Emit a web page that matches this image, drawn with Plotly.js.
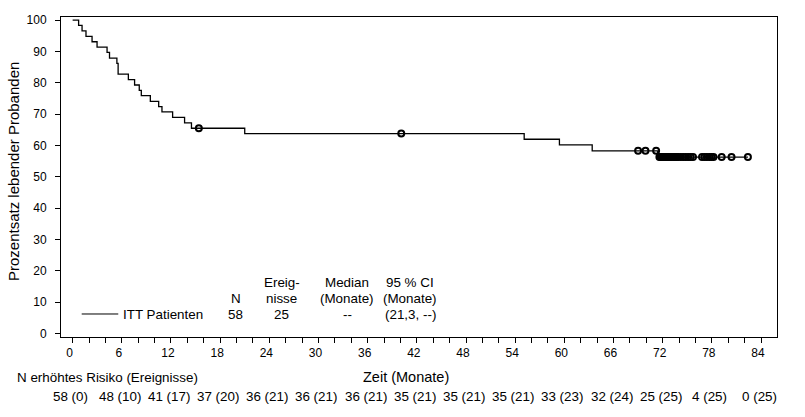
<!DOCTYPE html>
<html>
<head>
<meta charset="utf-8">
<script src="https://cdn.plot.ly/plotly-3.0.1.min.js"></script>
<style>
  html, body { margin: 0; padding: 0; background: #fff; }
  #chart { width: 805px; height: 417px; }
</style>
</head>
<body>
<div id="chart"></div>
<script>
// Kaplan-Meier step curve (time in months, survival in %)
const kmTime = [0, 0.73, 1.15, 1.63, 2.37, 2.98, 4.2, 4.5, 5.4, 5.55, 6.8, 7.56, 8.13, 8.38, 9.48, 10.5, 10.9, 12.2, 13.66, 14.5, 21.0, 55.1, 59.4, 63.4, 71.4, 82.4];
const kmSurv = [100, 98.3, 96.6, 94.8, 93.1, 91.4, 89.7, 87.9, 86.2, 82.8, 81.0, 79.3, 77.6, 75.9, 74.1, 72.4, 70.7, 69.0, 67.2, 65.5, 63.8, 62.0, 60.2, 58.3, 56.3, 56.3];

// Censored observations
const censorTime = [15.4, 40.1, 69.0, 69.9, 71.2,
  71.6, 71.75, 71.9, 72.1, 72.3, 72.5, 72.7, 72.9, 73.1, 73.3, 73.5, 73.7, 73.9, 74.2, 74.5, 74.8, 75.1, 75.4, 75.7,
  76.8, 77.1, 77.4, 77.7, 77.95, 78.2, 79.2, 80.4, 82.4];
const censorSurv = [65.5, 63.8, 58.3, 58.3, 58.3,
  56.3, 56.3, 56.3, 56.3, 56.3, 56.3, 56.3, 56.3, 56.3, 56.3, 56.3, 56.3, 56.3, 56.3, 56.3, 56.3, 56.3, 56.3, 56.3,
  56.3, 56.3, 56.3, 56.3, 56.3, 56.3, 56.3, 56.3, 56.3];

// Number at risk table
const riskTimes = [0, 6, 12, 18, 24, 30, 36, 42, 48, 54, 60, 66, 72, 78, 84];
const riskN = [58, 48, 41, 37, 36, 36, 36, 35, 35, 35, 33, 32, 25, 4, 0];
const riskE = [0, 10, 17, 20, 21, 21, 21, 21, 21, 21, 23, 24, 25, 25, 25];

// Summary table
const groupName = 'ITT Patienten';
const summaryHeaders = [['N'], ['Ereig-', 'nisse'], ['Median', '(Monate)'], ['95 % CI', '(Monate)']];
const summaryValues = ['58', '25', '--', '(21,3, --)'];

const FONT = 'Liberation Sans, Arial, sans-serif';
const TXT = 13.4;

const traces = [
  {
    x: kmTime, y: kmSurv, type: 'scatter', mode: 'lines',
    line: { shape: 'hv', color: '#000', width: 1.3 },
    hoverinfo: 'skip', showlegend: false
  },
  {
    x: censorTime, y: censorSurv, type: 'scatter', mode: 'markers',
    marker: { symbol: 'circle-open', size: 6, color: '#000', line: { width: 2, color: '#000' } },
    hoverinfo: 'skip', showlegend: false
  }
];

const annotations = [];
// summary table columns (x in months)
const colX = [19.9, 25.5, 33.5, 41.2];
const rowShift = [55, 39, 23];
summaryHeaders.forEach((h, i) => {
  const start = 2 - h.length;
  h.forEach((t, j) => {
    annotations.push({ xref: 'x', yref: 'paper', x: colX[i], y: 0, yshift: rowShift[start + j],
      text: t, showarrow: false, xanchor: 'center', yanchor: 'middle', font: { family: FONT, size: TXT, color: '#000' } });
  });
  annotations.push({ xref: 'x', yref: 'paper', x: colX[i], y: 0, yshift: rowShift[2],
    text: summaryValues[i], showarrow: false, xanchor: 'center', yanchor: 'middle', font: { family: FONT, size: TXT, color: '#000' } });
});
annotations.push({ xref: 'x', yref: 'paper', x: 5.9, y: 0, yshift: rowShift[2],
  text: groupName, showarrow: false, xanchor: 'left', yanchor: 'middle', font: { family: FONT, size: TXT, color: '#000' } });

// Risk table
riskTimes.forEach((t, i) => {
  annotations.push({ xref: 'x', yref: 'paper', x: t, y: 0, yshift: -59, xshift: -2,
    text: riskN[i] + ' (' + riskE[i] + ')', showarrow: false, xanchor: 'center', yanchor: 'middle',
    font: { family: FONT, size: TXT, color: '#000' } });
});
annotations.push({ xref: 'paper', yref: 'paper', x: 0, y: 0, xshift: -46, yshift: -40,
  text: 'N erhöhtes Risiko (Ereignisse)', showarrow: false, xanchor: 'left', yanchor: 'middle',
  font: { family: FONT, size: TXT, color: '#000' } });
annotations.push({ xref: 'paper', yref: 'paper', x: 0, y: 0, xshift: 345, yshift: -40,
  text: 'Zeit (Monate)', showarrow: false, xanchor: 'center', yanchor: 'middle',
  font: { family: FONT, size: 14.5, color: '#000' } });
annotations.push({ xref: 'paper', yref: 'paper', x: 0, y: 0.5, xshift: -48, yshift: 5,
  text: 'Prozentsatz lebender Probanden', textangle: -90, showarrow: false, xanchor: 'center', yanchor: 'middle',
  font: { family: FONT, size: 15, color: '#000' } });

const layout = {
  width: 805, height: 417,
  margin: { l: 61, r: 28, t: 17, b: 80, pad: 0 },
  paper_bgcolor: '#fff', plot_bgcolor: '#fff',
  font: { family: FONT, size: 12, color: '#000' },
  xaxis: {
    range: [-1.42, 85.95], showgrid: false, zeroline: false,
    showline: true, mirror: true, linecolor: '#000', linewidth: 1,
    tickmode: 'linear', tick0: 0, dtick: 6, ticks: 'outside', ticklen: 5, tickcolor: '#000', tickwidth: 1,
    minor: { tickmode: 'linear', tick0: 0, dtick: 2, ticks: 'outside', ticklen: 5, tickcolor: '#000', tickwidth: 1, showgrid: false },
    tickfont: { family: FONT, size: 12, color: '#000' }, ticklabelshift: -3
  },
  yaxis: {
    range: [-1.1, 101], showgrid: false, zeroline: false,
    showline: true, mirror: true, linecolor: '#000', linewidth: 1,
    tickmode: 'linear', tick0: 0, dtick: 10, ticks: 'outside', ticklen: 5, tickcolor: '#000', tickwidth: 1,
    tickfont: { family: FONT, size: 12, color: '#000' }, ticklabelstandoff: 6
  },
  shapes: [
    { type: 'line', xref: 'paper', yref: 'paper', x0: 0.0289, x1: 0.080, y0: 0.0719, y1: 0.0719,
      line: { color: '#000', width: 1 } }
  ],
  annotations: annotations
};

Plotly.newPlot('chart', traces, layout, { displayModeBar: false, staticPlot: true });
</script>
</body>
</html>
